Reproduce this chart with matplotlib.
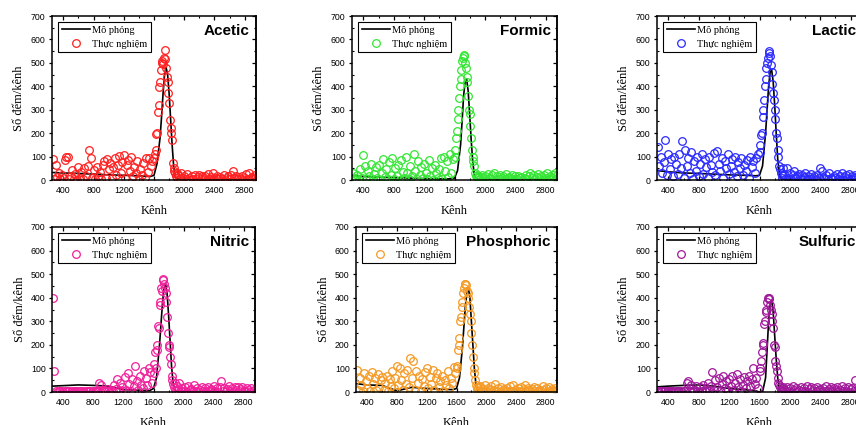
import numpy as np
import matplotlib
matplotlib.use("Agg")
import matplotlib.pyplot as plt
from matplotlib.ticker import MultipleLocator

# channel grid of the measured spectra (finer sampling around the peak)
channels = np.concatenate([np.arange(260, 1600, 20),
                           np.arange(1600, 1920, 10),
                           np.arange(1920, 2961, 20)])

# knots of the simulated spectrum
sim_channels = [260, 400, 600, 800, 1000, 1200, 1400, 1550, 1600, 1640, 1680, 1700, 1720,
                1740, 1760, 1780, 1800, 1820, 1840, 1860, 1880, 1900, 1950, 2200, 2600, 2960]

## measured counts per channel (low part / peak / high part)
acetic_exp = ([88, 6, 62, 12, 30, 3, 22, 8, 85, 98,
               100, 4, 15, 42, 6, 25, 2, 55, 10, 35,
               5, 52, 18, 60, 130, 95, 8, 42, 3, 55,
               15, 36, 5, 62, 82, 10, 90, 45, 72, 8,
               55, 95, 20, 62, 102, 30, 75, 105, 10, 66,
               85, 40, 100, 15, 55, 30, 80, 5, 45, 20,
               72, 8, 92, 35, 95, 60, 82]
              + [95, 110, 130, 195, 200, 290, 320, 395,
                 420, 470, 500, 510, 495, 520, 555, 515,
                 480, 440, 420, 370, 330, 255, 220, 200,
                 170, 72, 52, 40, 28, 18, 10, 30]
              + [22, 5, 30, 8, 15, 3, 25, 10, 2, 18,
                 6, 20, 4, 12, 22, 3, 15, 8, 18, 2,
                 25, 5, 12, 28, 4, 10, 18, 3, 14, 6,
                 20, 2, 10, 15, 4, 22, 38, 8, 16, 3,
                 12, 5, 18, 2, 10, 25, 4, 30, 8, 14,
                 3, 20, 6])
acetic_sim = [32, 30, 28, 25, 22, 20, 18, 15, 20, 70, 180, 270, 370,
              450, 480, 450, 370, 260, 150, 60, 15, 5, 3, 2, 2, 2]

formic_exp = ([30, 3, 8, 20, 2, 45, 10, 105, 60, 5,
               40, 15, 70, 4, 25, 55, 8, 65, 2, 30,
               90, 12, 45, 3, 75, 20, 95, 6, 50, 18,
               65, 2, 85, 35, 10, 100, 28, 5, 60, 15,
               110, 40, 3, 80, 22, 55, 8, 70, 30, 4,
               85, 18, 50, 2, 65, 30, 10, 45, 95, 5,
               100, 40, 80, 12, 110, 30, 90]
              + [100, 130, 180, 210, 260, 300, 350, 400,
                 430, 470, 510, 520, 535, 530, 500, 480,
                 440, 420, 360, 300, 280, 230, 180, 130,
                 100, 80, 60, 30, 15, 8, 20, 12]
              + [15, 3, 22, 8, 18, 2, 25, 10, 5, 20,
                 28, 6, 15, 3, 22, 10, 18, 4, 25, 8,
                 12, 2, 20, 6, 15, 3, 18, 8, 12, 2,
                 10, 22, 4, 15, 30, 8, 20, 3, 12, 25,
                 6, 18, 2, 22, 10, 28, 4, 15, 8, 20,
                 30, 5, 25])
formic_sim = [20, 15, 12, 10, 8, 6, 5, 5, 8, 40, 150, 250, 360,
              420, 430, 380, 280, 170, 80, 25, 6, 3, 2, 2, 2, 2]

lactic_exp = ([140, 60, 100, 30, 75, 170, 20, 110, 45, 90,
               15, 100, 70, 25, 110, 50, 165, 8, 130, 60,
               95, 30, 120, 5, 80, 40, 100, 15, 70, 110,
               25, 90, 55, 10, 100, 65, 35, 115, 20, 125,
               70, 40, 95, 10, 80, 50, 110, 25, 60, 90,
               35, 100, 15, 75, 50, 95, 20, 65, 40, 85,
               10, 100, 55, 80, 30, 95, 110]
              + [120, 150, 190, 200, 270, 300, 340, 400,
                 430, 480, 500, 520, 550, 540, 530, 490,
                 460, 410, 370, 340, 300, 260, 200, 180,
                 130, 100, 60, 45, 30, 20, 10, 50]
              + [25, 5, 50, 10, 30, 3, 20, 40, 8, 15,
                 25, 4, 20, 12, 30, 6, 18, 3, 25, 10,
                 15, 2, 22, 8, 50, 40, 12, 4, 20, 6,
                 28, 10, 3, 18, 8, 25, 5, 15, 30, 2,
                 12, 20, 6, 25, 3, 15, 10, 22, 4, 18,
                 8, 25, 5])
lactic_sim = [40, 35, 30, 28, 25, 22, 20, 18, 20, 60, 200, 300, 400,
              460, 470, 420, 320, 200, 90, 30, 8, 4, 3, 2, 2, 2]

nitric_exp = ([400, 88, 4, 2, 6, 3, 5, 2, 4, 6,
               3, 5, 2, 4, 6, 3, 5, 2, 4, 3,
               5, 2, 4, 6, 3, 5, 2, 4, 6, 3,
               5, 38, 28, 4, 10, 3, 12, 6, 2, 8,
               4, 30, 12, 55, 8, 40, 20, 3, 65, 10,
               80, 35, 5, 55, 25, 110, 45, 8, 70, 30,
               15, 90, 60, 30, 100, 85, 40]
              + [120, 80, 170, 100, 200, 180, 280, 270,
                 370, 380, 440, 430, 480, 475, 460, 440,
                 420, 380, 320, 250, 200, 190, 150, 120,
                 70, 50, 35, 20, 10, 40, 5, 25]
              + [10, 40, 3, 15, 6, 20, 2, 25, 8, 12,
                 3, 30, 5, 18, 2, 10, 20, 4, 15, 6,
                 22, 3, 12, 8, 25, 4, 15, 2, 20, 45,
                 6, 18, 3, 12, 25, 5, 15, 2, 20, 8,
                 22, 4, 12, 20, 6, 3, 18, 8, 2, 15,
                 5, 10, 3])
nitric_sim = [25, 27, 30, 28, 25, 10, 8, 6, 15, 60, 200, 290, 380,
              440, 460, 420, 330, 220, 110, 40, 10, 4, 3, 2, 2, 2]

phosphoric_exp = ([95, 10, 60, 30, 5, 80, 45, 15, 70, 3,
                   85, 35, 60, 8, 75, 20, 50, 65, 10, 40,
                   70, 5, 55, 25, 90, 15, 60, 110, 30, 100,
                   50, 8, 80, 35, 95, 20, 145, 60, 130, 10,
                   90, 40, 70, 5, 55, 25, 85, 100, 15, 65,
                   35, 95, 10, 60, 80, 20, 45, 70, 5, 50,
                   30, 90, 15, 60, 40, 105, 80]
                  + [100, 110, 180, 200, 230, 300, 320, 360,
                     380, 420, 440, 460, 460, 455, 430, 420,
                     400, 360, 330, 300, 250, 200, 150, 100,
                     80, 50, 30, 20, 8, 15, 5, 25]
                  + [20, 5, 12, 30, 3, 15, 8, 25, 4, 10,
                     35, 6, 15, 2, 20, 8, 12, 3, 18, 5,
                     25, 4, 30, 10, 2, 15, 6, 22, 3, 12,
                     30, 5, 18, 8, 2, 12, 20, 4, 15, 6,
                     10, 3, 25, 8, 15, 2, 20, 6, 12, 4,
                     18, 3, 10])
phosphoric_sim = [35, 30, 28, 5, 20, 15, 12, 10, 15, 60, 190, 280, 370,
                  420, 440, 400, 300, 200, 100, 35, 8, 3, 2, 2, 2, 2]

sulfuric_exp = ([5, 2, 4, 6, 3, 5, 2, 4, 6, 3,
                 5, 2, 4, 6, 3, 5, 2, 4, 6, 40,
                 45, 5, 30, 3, 8, 25, 4, 2, 20, 6,
                 30, 3, 15, 40, 5, 25, 85, 10, 50, 20,
                 60, 5, 35, 70, 15, 45, 8, 55, 25, 70,
                 10, 40, 75, 20, 55, 5, 30, 65, 15, 45,
                 70, 25, 55, 100, 35, 60, 15]
                + [90, 100, 130, 170, 200, 210, 290, 300,
                   340, 350, 380, 400, 400, 395, 370, 350,
                   330, 300, 270, 200, 190, 130, 110, 90,
                   60, 40, 30, 20, 10, 15, 5, 20]
                + [12, 3, 20, 6, 15, 2, 25, 8, 18, 4,
                   10, 22, 3, 15, 6, 25, 2, 12, 20, 5,
                   15, 3, 22, 8, 12, 2, 18, 6, 25, 4,
                   12, 20, 3, 15, 8, 22, 5, 10, 25, 3,
                   15, 6, 20, 2, 12, 18, 4, 50, 10, 3,
                   20, 6, 15])
sulfuric_sim = [22, 25, 28, 30, 25, 15, 10, 5, 0, 0, 60, 180, 300,
                370, 390, 340, 240, 140, 60, 15, 4, 2, 2, 2, 2, 2]

names = ["Acetic", "Formic", "Lactic", "Nitric", "Phosphoric", "Sulfuric"]
exp_data = [acetic_exp, formic_exp, lactic_exp, nitric_exp, phosphoric_exp, sulfuric_exp]
sim_data = [acetic_sim, formic_sim, lactic_sim, nitric_sim, phosphoric_sim, sulfuric_sim]
colors = ["#ff2020", "#33e633", "#2a2aff", "#f0209a", "#f59a25", "#a0189a"]

# axes boxes in pixels: left, top, width, height (right column runs past the edge)
W, H = 856, 425
boxes = [(52, 16, 204, 164), (352, 16, 205, 164), (657, 16, 205, 164),
         (52, 227, 203, 165), (356, 227, 201, 165), (657, 227, 205, 165)]

serif = ["Liberation Serif", "DejaVu Serif"]
sans = ["Liberation Sans", "DejaVu Sans"]

fig = plt.figure(figsize=(W / 100, H / 100), dpi=100)

for i in range(6):
    l, t, w, h = boxes[i]
    ax = fig.add_axes([l / W, (H - t - h) / H, w / W, h / H])

    ax.plot(sim_channels, sim_data[i], color="black", lw=1.2, label="Mô phỏng")
    ax.plot(channels, exp_data[i], "o", mfc="none", mec=colors[i], ms=5.5, mew=0.9,
            label="Thực nghiệm")

    ax.set_xlim(250, 2950)
    ax.set_ylim(0, 700)
    ax.xaxis.set_major_locator(MultipleLocator(400))
    ax.xaxis.set_minor_locator(MultipleLocator(200))
    ax.yaxis.set_major_locator(MultipleLocator(100))
    ax.yaxis.set_minor_locator(MultipleLocator(50))

    ax.tick_params(axis="x", which="both", direction="in", top=True, pad=4)
    ax.tick_params(axis="x", which="major", length=2.8, width=0.9)
    ax.tick_params(axis="x", which="minor", length=1.6, width=0.8)
    ax.tick_params(axis="y", which="major", direction="out", length=2.4, width=0.9, pad=2.2)
    ax.tick_params(axis="y", which="minor", direction="in", length=1.6, width=0.8)
    for lab in ax.get_xticklabels() + ax.get_yticklabels():
        lab.set_family(sans)
        lab.set_fontsize(6.3)

    # right side ticks pointing inwards
    sec = ax.secondary_yaxis("right")
    sec.yaxis.set_major_locator(MultipleLocator(100))
    sec.yaxis.set_minor_locator(MultipleLocator(50))
    sec.tick_params(which="both", direction="in", labelright=False, width=0.9)
    sec.tick_params(which="major", length=2.8)
    sec.tick_params(which="minor", length=1.6)
    sec.spines["right"].set_linewidth(1.1)

    for s in ax.spines.values():
        s.set_linewidth(1.1)

    ax.set_xlabel("Kênh", family=serif, fontsize=9)
    ax.set_ylabel("Số đếm/kênh", family=serif, fontsize=9)
    ax.xaxis.set_label_coords(0.5, -0.15)
    ax.yaxis.set_label_coords(-0.13, 0.5)

    ax.text(0.97, 0.91, names[i], transform=ax.transAxes, ha="right", va="center",
            fontsize=11, fontweight="bold", family=sans)

    leg = ax.legend(loc="upper left", bbox_to_anchor=(0.03, 0.965), borderaxespad=0,
                    fancybox=False, edgecolor="black", framealpha=1,
                    prop={"family": serif, "size": 7.5}, handlelength=2.7,
                    handletextpad=0.2, labelspacing=0.45, borderpad=0.35)
    leg.get_frame().set_linewidth(0.8)

fig.savefig("out.png", dpi=100)
